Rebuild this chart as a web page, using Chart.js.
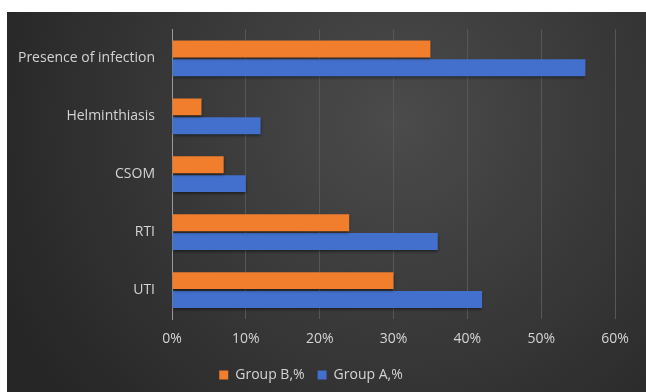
<!DOCTYPE html>
<html>
<head>
<meta charset="utf-8">
<script src="https://cdn.jsdelivr.net/npm/chart.js@4/dist/chart.umd.min.js"></script>
<style>
  html, body { margin: 0; padding: 0; background: #fff; }
  #wrap { position: absolute; left: 7px; top: 12px; width: 639px; height: 380px; }
</style>
</head>
<body>
<div id="wrap"><canvas id="chart"></canvas></div>
<script>
// --- data ---
const categories = ['Presence of infection', 'Helminthiasis', 'CSOM', 'RTI', 'UTI'];
const groupB = [35, 4, 7, 24, 30];
const groupA = [56, 12, 10, 36, 42];
const xTicks = [0, 10, 20, 30, 40, 50, 60];

const textColor = '#d4d4d4';
const font = { family: 'Open Sans', size: 14 };

// dark radial backdrop like the office "dark" chart style
const backdrop = {
    id: 'backdrop',
    beforeDraw(chart) {
        const { ctx, width, height } = chart;
        const g = ctx.createRadialGradient(390, 110, 0, 390, 110, 430);
        g.addColorStop(0, '#4b4b4b');
        g.addColorStop(1, '#262626');
        ctx.save();
        ctx.fillStyle = g;
        ctx.fillRect(0, 0, width, height);
        ctx.restore();
    }
};

// soft drop shadow under bars
const barShadow = {
    id: 'barShadow',
    beforeDatasetsDraw(chart) {
        const ctx = chart.ctx;
        ctx.save();
        ctx.shadowColor = 'rgba(0,0,0,0.55)';
        ctx.shadowBlur = 3;
        ctx.shadowOffsetY = 2;
    },
    afterDatasetsDraw(chart) {
        chart.ctx.restore();
    }
};

new Chart(document.getElementById('chart'), {
    type: 'bar',
    data: {
        labels: categories,
        datasets: [
            { label: 'Group B,%', data: groupB, backgroundColor: '#F07E2D', categoryPercentage: 0.65, barPercentage: 0.9 },
            { label: 'Group A,%', data: groupA, backgroundColor: '#4270CC', categoryPercentage: 0.65, barPercentage: 0.9 }
        ]
    },
    options: {
        indexAxis: 'y',
        responsive: true,
        maintainAspectRatio: false,
        animation: false,
        layout: { padding: { top: 16, right: 31, left: 0, bottom: 0 } },
        plugins: {
            tooltip: { enabled: false },
            legend: {
                position: 'bottom',
                labels: { color: textColor, font, boxWidth: 9, boxHeight: 9, padding: 13 }
            }
        },
        scales: {
            x: {
                min: 0, max: 60,
                afterBuildTicks: s => { s.ticks = xTicks.map(v => ({ value: v })); },
                afterFit: s => { s.height = 36; },
                ticks: { color: textColor, font, padding: 12, callback: v => v + '%' },
                grid: { color: '#575757', lineWidth: 1, drawTicks: false },
                border: { display: false }
            },
            y: {
                afterFit: s => { s.width = 165; },
                ticks: { color: textColor, font, padding: 9 },
                grid: { display: false },
                border: { display: true, color: '#9a9a9a', width: 1 }
            }
        }
    },
    plugins: [backdrop, barShadow]
});
</script>
</body>
</html>
